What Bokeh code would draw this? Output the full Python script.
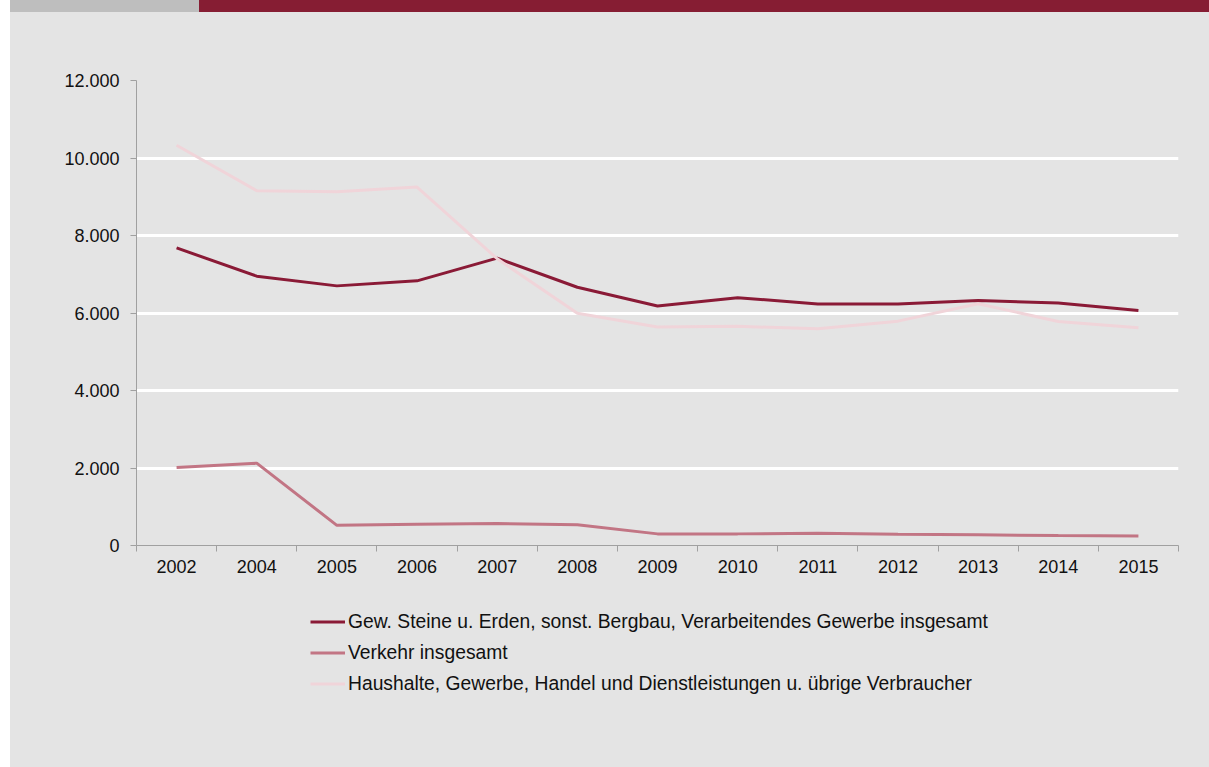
from bokeh.plotting import figure
from bokeh.models import FixedTicker, Legend, LegendItem, ColumnDataSource, Range1d, Spacer, Div
from bokeh.layouts import column, row
from bokeh.embed import file_html
from bokeh.resources import INLINE

years = ["2002", "2004", "2005", "2006", "2007", "2008", "2009", "2010", "2011", "2012", "2013", "2014", "2015"]
gew = [7680, 6950, 6700, 6830, 7415, 6665, 6180, 6395, 6235, 6235, 6320, 6260, 6065]
verkehr = [2015, 2125, 520, 550, 565, 535, 300, 300, 318, 292, 275, 258, 242]
haushalte = [10330, 9155, 9130, 9250, 7400, 5995, 5640, 5655, 5595, 5790, 6240, 5780, 5620]
names = ["Gew. Steine u. Erden, sonst. Bergbau, Verarbeitendes Gewerbe insgesamt",
         "Verkehr insgesamt",
         "Haushalte, Gewerbe, Handel und Dienstleistungen u. übrige Verbraucher"]
y_ticks = [0, 2000, 4000, 6000, 8000, 10000, 12000]
y_labels = ["0", "2.000", "4.000", "6.000", "8.000", "10.000", "12.000"]

colors = ["#8a1a36", "#c27584", "#f0d4d9"]
BG = "#e4e4e4"
FONT = "Liberation Sans"
FS = "18px"

xs = [i + 0.5 for i in range(len(years))]

bar = Div(width=1199, height=12, margin=0,
          text='<div style="display:flex;width:1199px;height:12px;">'
               '<div style="width:189px;height:12px;background:#bebebe;"></div>'
               '<div style="width:1010px;height:12px;background:#861d33;"></div></div>')

p = figure(width=1199, height=590, output_backend="svg", toolbar_location=None,
           x_range=Range1d(0, len(years)), y_range=Range1d(0, 12000),
           frame_width=1042, frame_height=465,
           min_border_left=126, min_border_right=31, min_border_top=68, min_border_bottom=57)
p.background_fill_alpha = 0
p.border_fill_alpha = 0
p.outline_line_color = None

renderers = []
for vals, c in zip([gew, verkehr, haushalte], colors):
    src = ColumnDataSource(dict(x=xs, y=vals))
    r = p.line("x", "y", source=src, line_color=c, line_width=3)
    renderers.append(r)

p.yaxis.ticker = FixedTicker(ticks=y_ticks)
p.yaxis.major_label_overrides = {t: l for t, l in zip(y_ticks, y_labels)}
p.yaxis.axis_line_color = "#a0a0a0"
p.yaxis.major_tick_line_color = "#a0a0a0"
p.yaxis.major_tick_out = 6
p.yaxis.major_tick_in = 0
p.yaxis.minor_tick_line_color = None
p.yaxis.major_label_standoff = 11
p.yaxis.major_label_text_font = FONT
p.yaxis.major_label_text_font_size = FS
p.yaxis.major_label_text_color = "#111111"

p.xaxis.ticker = FixedTicker(ticks=xs, minor_ticks=list(range(len(years) + 1)))
p.xaxis.major_label_overrides = {x: y for x, y in zip(xs, years)}
p.xaxis.axis_line_color = "#a0a0a0"
p.xaxis.major_tick_line_color = None
p.xaxis.minor_tick_line_color = "#a0a0a0"
p.xaxis.minor_tick_out = 6
p.xaxis.minor_tick_in = 0
p.xaxis.major_label_standoff = 8
p.xaxis.major_label_text_font = FONT
p.xaxis.major_label_text_font_size = FS
p.xaxis.major_label_text_color = "#111111"

p.xgrid.visible = False
p.ygrid.ticker = FixedTicker(ticks=y_ticks)
p.ygrid.grid_line_color = "white"
p.ygrid.grid_line_width = 3

# legend area: a second figure sharing the same frame geometry
lg = figure(width=1199, height=165, output_backend="svg", toolbar_location=None,
            x_range=Range1d(0, 1), y_range=Range1d(0, 1),
            frame_width=1042, frame_height=165,
            min_border_left=126, min_border_right=31, min_border_top=0, min_border_bottom=0)
lg.axis.visible = False
lg.grid.visible = False
lg.outline_line_color = None
lg.background_fill_alpha = 0
lg.border_fill_alpha = 0
lg_renderers = []
for c in colors:
    lg_renderers.append(lg.line([float("nan")], [float("nan")], line_color=c, line_width=3))

legend = Legend(items=[LegendItem(label=n, renderers=[r]) for n, r in zip(names, lg_renderers)],
                location=(174, 72), orientation="vertical",
                glyph_width=35, glyph_height=23, label_height=23, spacing=8,
                label_standoff=3, padding=0, margin=0,
                background_fill_alpha=0, border_line_color=None,
                label_text_font=FONT, label_text_font_size="19.3px", label_text_color="#111111")
lg.add_layout(legend, "center")

layout = row(Spacer(width=10, height=767, styles={"background-color": "white"}),
             column(bar, p, lg, spacing=0, styles={"background-color": BG}), spacing=0)

open("out.html", "w").write(file_html(layout, INLINE))
